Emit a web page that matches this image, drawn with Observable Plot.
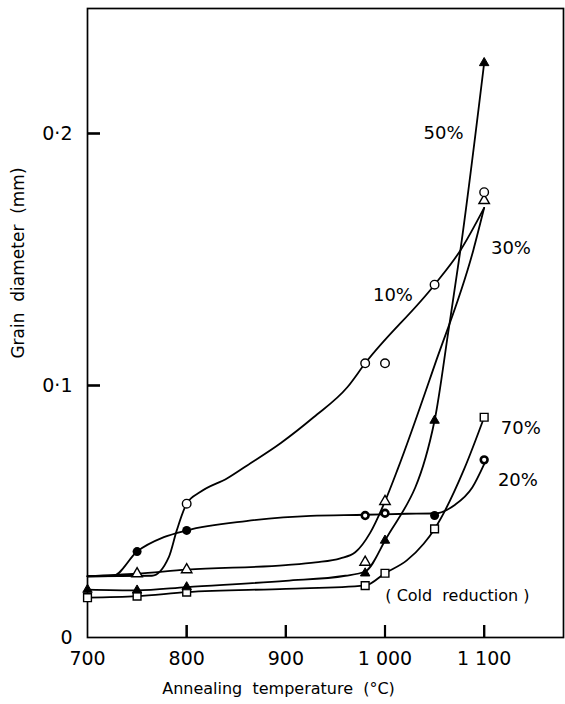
<!DOCTYPE html>
<html>
<head>
<meta charset="utf-8">
<script src="https://cdn.jsdelivr.net/npm/d3@7"></script>
<script src="https://cdn.jsdelivr.net/npm/@observablehq/plot@0.6"></script>
<style>
  html, body { margin: 0; padding: 0; background: #fff; }
  #chart svg { display: block; }
</style>
</head>
<body>
<div id="chart"></div>
<script>
// ---- axis ticks ----
const xDomain = [700, 1180];
const yDomain = [0, 0.2496];
const xTicks = [700, 800, 900, 1000, 1100];
const xTickLabels = ["700", "800", "900", "1 000", "1 100"];
const xInnerTicks = [800, 900, 1000, 1100];
const yTicks = [0, 0.1, 0.2];
const yTickLabels = ["0", "0·1", "0·2"];
const yInnerTicks = [0.1, 0.2];

// ---- measured points (annealing temperature °C, grain diameter mm) ----
const s10Points = [[800, 0.0531], [980, 0.1088], [1000, 0.1088], [1050, 0.140], [1100, 0.1767]];
const s20Filled = [[750, 0.0341], [800, 0.0425], [1050, 0.0484]];
const s20Ringed = [[980, 0.0484], [1000, 0.0493], [1100, 0.0705]];
const s30Points = [[750, 0.0253], [800, 0.0269], [980, 0.0299], [1000, 0.054], [1100, 0.1734]];
const s50Points = [[700, 0.019], [750, 0.0187], [800, 0.020], [980, 0.0255], [1000, 0.0385], [1050, 0.0861], [1100, 0.228]];
const s70Points = [[700, 0.0158], [750, 0.0164], [800, 0.018], [980, 0.0206], [1000, 0.0255], [1050, 0.0431], [1100, 0.0874]];

// ---- hand-drawn curves ----
const s10Curve = [[700, 0.0243], [765, 0.0245], [782, 0.0319], [790, 0.0425], [800, 0.0531], [814, 0.0578], [841, 0.0632], [861, 0.0683], [895, 0.0772], [928, 0.0874], [962, 0.0993], [980, 0.1088], [1050, 0.140], [1076, 0.1536], [1100, 0.1705]];
const s20Curve = [[700, 0.0243], [726, 0.0245], [750, 0.0341], [777, 0.0398], [800, 0.0425], [860, 0.0462], [925, 0.0483], [980, 0.0487], [1022, 0.0491], [1050, 0.0492], [1070, 0.0525], [1088, 0.0595], [1100, 0.0688]];
const s30Curve = [[700, 0.0243], [750, 0.0253], [800, 0.0269], [900, 0.0287], [930, 0.0298], [955, 0.0314], [970, 0.0338], [985, 0.0415], [1000, 0.054], [1013, 0.067], [1050, 0.108], [1089, 0.1536], [1100, 0.1705]];
const s50Curve = [[700, 0.019], [750, 0.0187], [800, 0.020], [900, 0.0225], [960, 0.0245], [980, 0.0262], [1000, 0.0385], [1050, 0.0861], [1064, 0.1218], [1076, 0.1536], [1100, 0.228]];
const s70Curve = [[700, 0.0158], [750, 0.0164], [800, 0.018], [900, 0.0193], [980, 0.0206], [1000, 0.0255], [1022, 0.0306], [1039, 0.0372], [1050, 0.0431], [1080, 0.067], [1100, 0.0874]];

// ---- series labels (placed in data units) ----
const seriesLabels = [
  {text: "50%", t: 1059, d: 0.200},
  {text: "30%", t: 1127, d: 0.1544},
  {text: "10%", t: 1008, d: 0.1357},
  {text: "70%", t: 1137, d: 0.0829},
  {text: "20%", t: 1134, d: 0.0623}
];
const noteLabel = [{text: "( Cold  reduction )", t: 1073, d: 0.0167}];

const xTitle = "Annealing  temperature  (°C)";
const yTitle = "Grain  diameter  (mm)";

const toRows = (arr, series) => arr.map(([t, d]) => ({t, d, series}));
const curveRows = [
  ...toRows(s10Curve, "10%"), ...toRows(s20Curve, "20%"), ...toRows(s30Curve, "30%"),
  ...toRows(s50Curve, "50%"), ...toRows(s70Curve, "70%")
];

const font = "DejaVu Sans";
const W = 565, H = 704, mT = 8, mL = 87, mR = 2, mB = 67;
const frameW = W - mL - mR, frameH = H - mT - mB;
const tickLenPx = 12;
// inward tick lengths (px) converted to data units through the domains
const xTickLen = tickLenPx * (yDomain[1] - yDomain[0]) / frameH;
const yTickLen = (tickLenPx + 1) * (xDomain[1] - xDomain[0]) / frameW;

const chart = Plot.plot({
  width: W,
  height: H,
  marginTop: mT,
  marginLeft: mL,
  marginRight: mR,
  marginBottom: mB,
  x: {domain: xDomain},
  y: {domain: yDomain},
  style: {fontFamily: font, color: "black", background: "white"},
  marks: [
    Plot.frame({stroke: "black", strokeWidth: 1.7}),
    Plot.axisX({ticks: xTicks, tickSize: 0, tickPadding: 14, fontSize: 19, label: null,
      tickFormat: d => xTickLabels[xTicks.indexOf(d)]}),
    Plot.axisX({ticks: xInnerTicks, tickSize: tickLenPx, dy: -tickLenPx, fill: "none", stroke: "black", strokeWidth: 2, label: null}),
    Plot.ruleX(xInnerTicks, {x: d => d, y1: () => yDomain[0], y2: () => yDomain[0] + xTickLen, stroke: "black", strokeWidth: 2.2}),
    Plot.axisY({ticks: yTicks, tickSize: 0, tickPadding: 15, fontSize: 19, label: null,
      tickFormat: d => yTickLabels[yTicks.indexOf(d)]}),
    Plot.axisY({ticks: yInnerTicks, tickSize: tickLenPx + 1, dx: tickLenPx + 1, fill: "none", stroke: "black", strokeWidth: 2, label: null}),
    Plot.ruleY(yInnerTicks, {y: d => d, x1: () => xDomain[0], x2: () => xDomain[0] + yTickLen, stroke: "black", strokeWidth: 2.2}),
    Plot.line(curveRows, {x: "t", y: "d", z: "series", curve: "monotone-x", stroke: "black", strokeWidth: 1.8}),
    Plot.dot(s70Points, {x: d => d[0], y: d => d[1], symbol: "square", r: 4.4, fill: "white", stroke: "black", strokeWidth: 1.4}),
    Plot.dot(s50Points, {x: d => d[0], y: d => d[1], symbol: "triangle", r: 3.5, fill: "black", stroke: "black", strokeWidth: 1}),
    Plot.dot(s30Points, {x: d => d[0], y: d => d[1], symbol: "triangle", r: 3.9, fill: "white", stroke: "black", strokeWidth: 1.4}),
    Plot.dot(s20Filled, {x: d => d[0], y: d => d[1], r: 4.5, fill: "black"}),
    Plot.dot(s20Ringed, {x: d => d[0], y: d => d[1], r: 3.4, fill: "white", stroke: "black", strokeWidth: 2.6}),
    Plot.dot(s10Points, {x: d => d[0], y: d => d[1], r: 4.3, fill: "white", stroke: "black", strokeWidth: 1.4}),
    Plot.text(seriesLabels, {x: "t", y: "d", text: "text", fontSize: 18, fill: "black", textAnchor: "middle", fontFamily: font, stroke: "white", strokeWidth: 3}),
    Plot.text(noteLabel, {x: "t", y: "d", text: "text", fontSize: 16, fill: "black", textAnchor: "middle", fontFamily: font}),
    Plot.text([xTitle], {frameAnchor: "bottom", textAnchor: "middle", dx: -47, dy: 56, text: d => d, fontSize: 16, fill: "black", fontFamily: font}),
    Plot.text([yTitle], {frameAnchor: "left", textAnchor: "middle", dx: -69, dy: -60, rotate: -90, text: d => d, fontSize: 17, fill: "black", fontFamily: font})
  ]
});
document.getElementById("chart").appendChild(chart);
</script>
</body>
</html>
